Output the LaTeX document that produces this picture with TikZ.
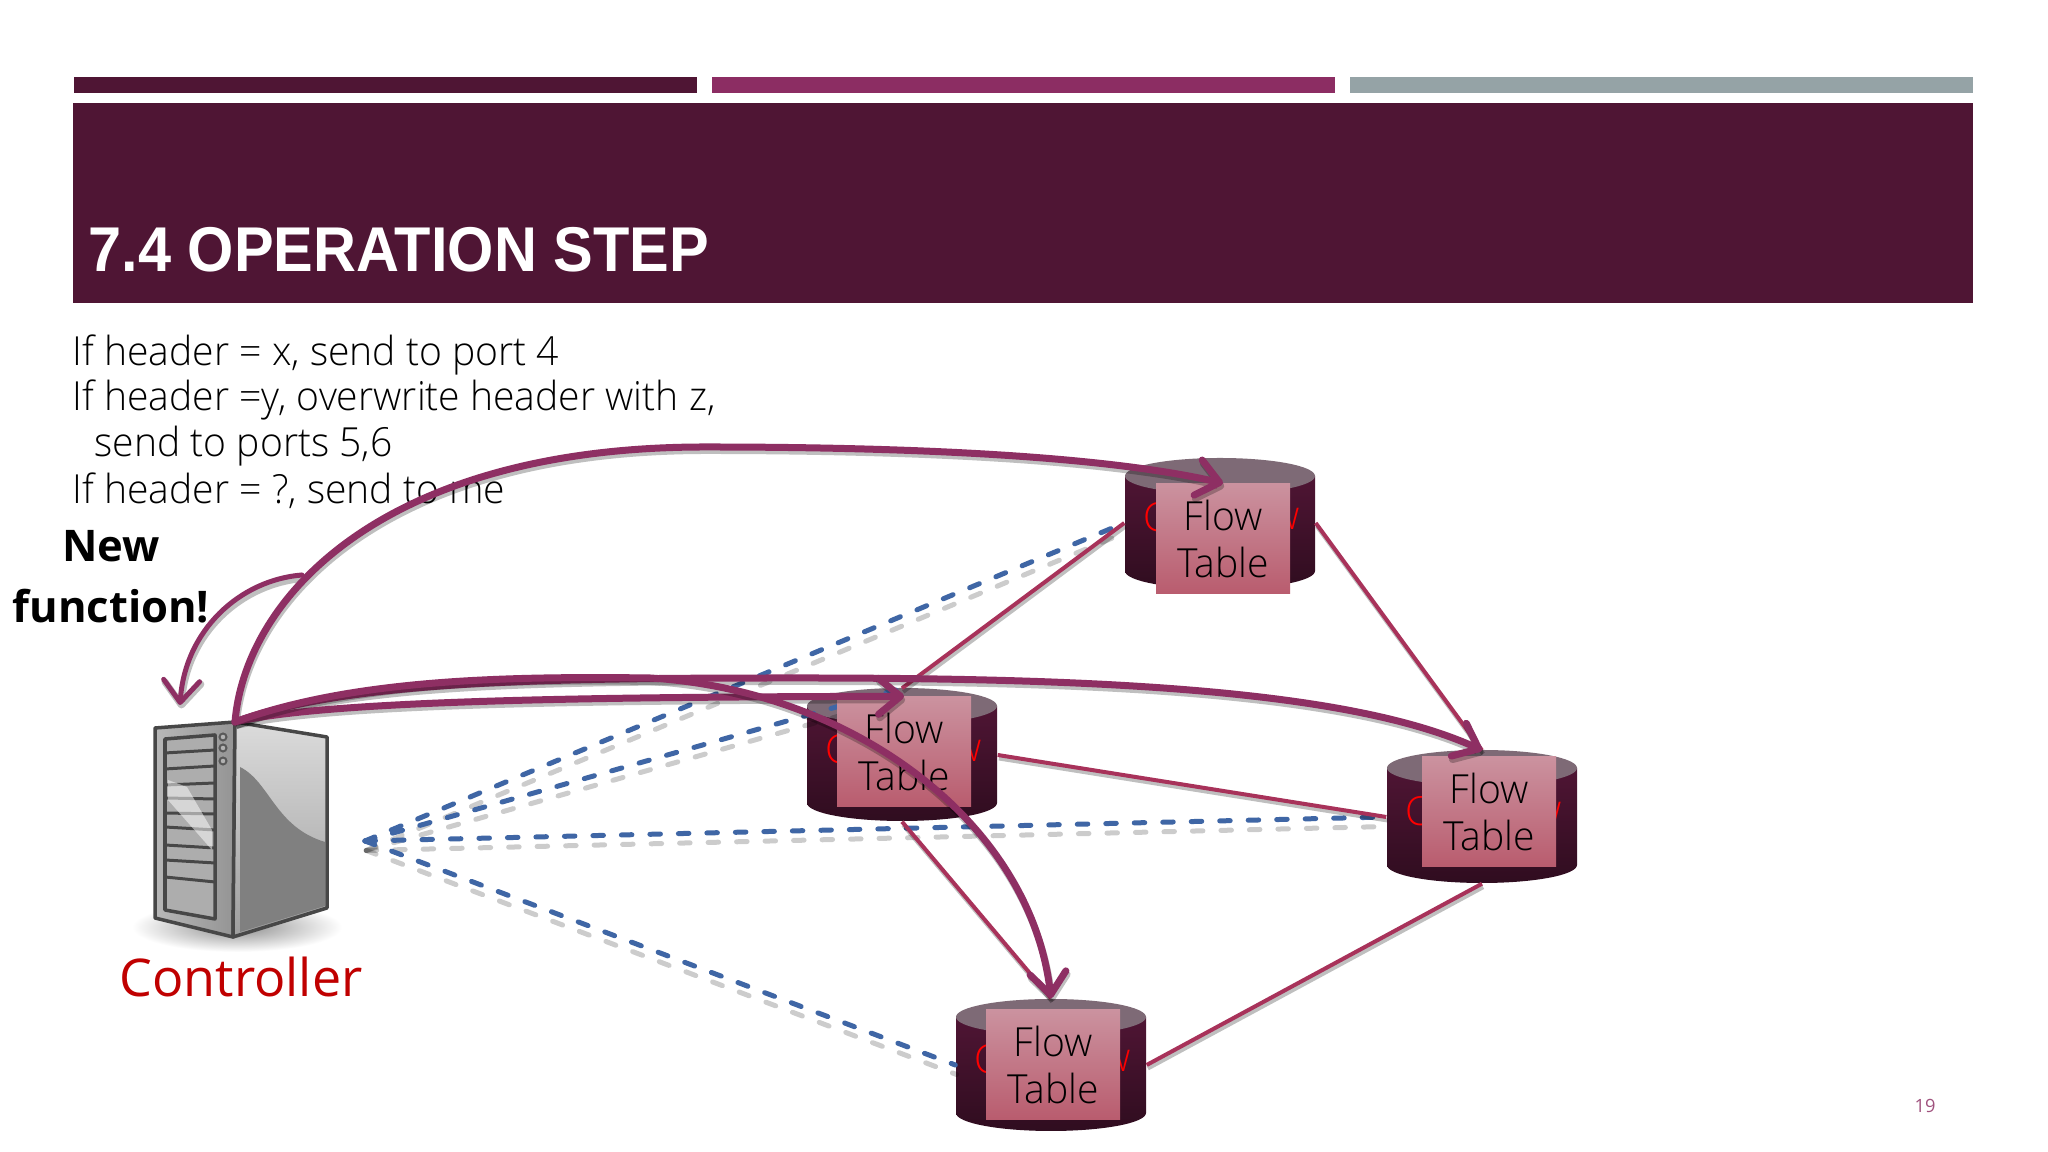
\documentclass[tikz,border=0pt]{standalone}
\usepackage{fontspec}
\setmainfont{Open Sans}
\newfontfamily\lightfont[FakeStretch=0.975]{Open Sans Light}
\newfontfamily\titlefont[FakeStretch=0.94]{Liberation Sans}
\usetikzlibrary{arrows.meta}
\definecolor{slidedark}{HTML}{4F1534}
\definecolor{slidemid}{HTML}{8C2D63}
\definecolor{slidegray}{HTML}{95A3A6}
\definecolor{arrowcol}{HTML}{8E2F63}
\definecolor{linkcol}{HTML}{A8325A}
\definecolor{dashcol}{HTML}{3F66A5}
\definecolor{labelred}{HTML}{C00000}
\definecolor{capcol}{HTML}{7E6A76}
\definecolor{boxtop}{HTML}{CB929F}
\definecolor{boxbottom}{HTML}{B95C6E}
\definecolor{pagecol}{HTML}{A0527E}
\tikzset{
  softshadow/.style={preaction={draw=black, opacity=.25, transform canvas={shift={(0.012,-0.035)}}, #1}},
  switchbody/.style={rectangle, minimum width=1.9cm, minimum height=1.32cm, inner sep=0pt},
  switchshade/.style={top color=slidedark, bottom color=slidedark!60!black},
  switchcap/.style={fill=capcol},
  flowbox/.style={rectangle, minimum width=1.34cm, minimum height=1.1cm, inner sep=0pt, align=center, top color=boxtop, bottom color=boxbottom, font=\lightfont\fontsize{11.4}{13.1}\selectfont},
  hiddenlabel/.style={text=red, inner sep=0pt, font=\lightfont\fontsize{11.4}{13.1}\selectfont},
  rulestext/.style={anchor=base west, inner sep=0pt, font=\lightfont\fontsize{11.4}{13.1}\selectfont},
  ctrlpath/.style={draw=dashcol, line width=.05cm, line cap=round, dash pattern=on .105cm off .18cm, softshadow={line width=.05cm, line cap=round, dash pattern=on .105cm off .18cm, transform canvas={shift={(0,-0.06)}}, opacity=.2}},
  swlink/.style={draw=linkcol, line width=.04cm, softshadow={line width=.04cm}},
  flowarrow/.style={draw=arrowcol, line width=.07cm, line cap=round, -{Straight Barb[length=.22cm,width=.36cm,round]}, softshadow={line width=.07cm}},
  srvface/.style={draw=black!72, line width=.035cm, line join=round}
}
\begin{document}
\begin{tikzpicture}
      \useasboundingbox (0,0) rectangle (20.48,11.52);
      \fill[white] (0,0) rectangle (20.48,11.52);
      % slide header
      \fill[slidedark] (0.74,10.75) rectangle (6.97,10.59);
      \fill[slidemid] (7.12,10.75) rectangle (13.35,10.59);
      \fill[slidegray] (13.50,10.75) rectangle (19.73,10.59);
      \fill[slidedark] (0.73,10.49) rectangle (19.73,8.49);
      \node[anchor=base west, inner sep=0pt, text=white, font=\titlefont\bfseries\fontsize{18}{22}\selectfont] (title) at (0.88,8.80) {7.4 OPERATION STEP};
      %
      \node[rulestext] (rule1) at (0.72,7.86) {If header = x, send to port 4};
      \node[rulestext] (rule2) at (0.72,7.41) {If header =y, overwrite header with z,};
      \node[rulestext] (rule3) at (0.94,6.95) {send to ports 5,6};
      \node[rulestext] (rule4) at (0.72,6.48) {If header = ?, send to me};
      %
      \node[anchor=base, inner sep=0pt, font=\bfseries\fontsize{12.4}{15}\selectfont] (newword) at (1.11,5.90) {New};
      \node[anchor=base, inner sep=0pt, font=\bfseries\fontsize{12.4}{15}\selectfont] (funcword) at (1.11,5.29) {function!};
      \node[anchor=base, inner sep=0pt, text=labelred, font=\fontsize{14.8}{17}\selectfont] (ctrllabel) at (2.41,1.55) {Controller};
      \node[text=pagecol, inner sep=0pt, font=\fontsize{5.2}{6}\selectfont] (pagenum) at (19.25,0.46) {19};
      % server
      \shade[inner color=black!45, outer color=white] (2.37,2.25) ellipse (1.05 and 0.25);
      \path[srvface, left color=black!28, right color=black!42] (1.55,4.24) -- (2.35,4.30) -- (2.33,2.15) -- (1.55,2.34) -- cycle;
      \path[srvface, top color=black!14, bottom color=black!38] (2.35,4.30) -- (3.27,4.15) -- (3.27,2.44) -- (2.33,2.15) -- cycle;
      \fill[black!50] (2.40,3.85) .. controls (2.70,3.70) and (2.75,3.25) .. (3.25,3.10) -- (3.25,2.46) -- (2.40,2.20) -- cycle;
      \path[srvface, fill=black!32] (1.65,4.13) -- (2.15,4.17) -- (2.15,2.33) -- (1.65,2.42) -- cycle;
      \draw[black!72, line width=.03cm] (1.65,3.99) -- (2.15,4.02) (1.65,3.83) -- (2.15,3.86) (1.65,3.67) -- (2.15,3.69) (1.65,3.54) -- (2.15,3.53) (1.65,3.39) -- (2.15,3.38) (1.65,3.25) -- (2.15,3.22) (1.65,3.07) -- (2.15,3.04) (1.65,2.92) -- (2.15,2.89) (1.65,2.75) -- (2.15,2.70);
      \fill[white, opacity=.5] (1.68,3.72) -- (1.87,3.65) -- (2.12,3.22) -- (2.12,3.02) -- (1.68,3.52) -- cycle;
      \draw[black!65, line width=.02cm, fill=black!30] (2.23,4.15) circle (0.035);
      \draw[black!65, line width=.02cm, fill=black!30] (2.23,4.04) circle (0.035);
      \draw[black!65, line width=.02cm, fill=black!30] (2.23,3.91) circle (0.035);
      \coordinate (srvtop) at (2.35,4.30);
      \coordinate (ctrlport) at (3.65,3.11);
      \coordinate (newstart) at (3.02,5.77);
      \coordinate (newend) at (1.80,4.47);
      % switches
      \node[switchbody] (swtop) at (12.20,6.29) {};
      \shade[switchshade] (11.25,6.76) -- (11.25,5.81) arc[start angle=180, end angle=360, x radius=.95, y radius=.18] -- (13.15,6.76) -- cycle;
      \fill[switchcap] (12.20,6.76) ellipse (0.95 and 0.18);
      \node[hiddenlabel] (swtopc) at (11.56,6.35) {C};
      \node[hiddenlabel] (swtopw) at (12.86,6.33) {w};
      %
      \node[switchbody] (swleft) at (9.02,3.97) {};
      \shade[switchshade] (8.07,4.46) -- (8.07,3.49) arc[start angle=180, end angle=360, x radius=.95, y radius=.18] -- (9.97,4.46) -- cycle;
      \fill[switchcap] (9.02,4.46) ellipse (0.95 and 0.18);
      \node[hiddenlabel] (swleftc) at (8.38,4.03) {C};
      \node[hiddenlabel] (swleftw) at (9.68,4.01) {w};
      %
      \node[switchbody] (swright) at (14.82,3.35) {};
      \shade[switchshade] (13.87,3.84) -- (13.87,2.87) arc[start angle=180, end angle=360, x radius=.95, y radius=.18] -- (15.77,3.84) -- cycle;
      \fill[switchcap] (14.82,3.84) ellipse (0.95 and 0.18);
      \node[hiddenlabel] (swrightc) at (14.18,3.41) {C};
      \node[hiddenlabel] (swrightw) at (15.48,3.39) {w};
      %
      \node[switchbody] (swbottom) at (10.51,0.87) {};
      \shade[switchshade] (9.56,1.35) -- (9.56,0.39) arc[start angle=180, end angle=360, x radius=.95, y radius=.18] -- (11.46,1.35) -- cycle;
      \fill[switchcap] (10.51,1.35) ellipse (0.95 and 0.18);
      \node[hiddenlabel] (swbottomc) at (9.87,0.93) {C};
      \node[hiddenlabel] (swbottomw) at (11.17,0.91) {w};
      % control channels
      \draw[ctrlpath] (ctrlport) -- (swtop.west);
      \draw[ctrlpath] (ctrlport) -- (swleft.north);
      \draw[ctrlpath] (ctrlport) -- (swright.west);
      \draw[ctrlpath] (ctrlport) -- (swbottom.west);
      % links
      \draw[swlink] (swtop.west) -- (swleft.north);
      \draw[swlink] (swtop.east) -- (swright.north);
      \draw[swlink] (swleft.east) -- (swright.west);
      \draw[swlink] (swleft.south) -- (swbottom.north);
      \draw[swlink] (swright.south) -- (swbottom.east);
      % flow tables
      \node[flowbox] (swtopbox) at (12.23,6.13) {Flow\\Table};
      \node[flowbox] (swleftbox) at (9.04,4.00) {Flow\\Table};
      \node[flowbox] (swrightbox) at (14.89,3.40) {Flow\\Table};
      \node[flowbox] (swbottombox) at (10.53,0.87) {Flow\\Table};
      % arrows
      \draw[flowarrow, line width=.05cm] (newstart) .. controls (2.40,5.72) and (1.85,5.22) .. (newend);
      \draw[flowarrow] (srvtop) .. controls (2.45,5.52) and (3.80,7.05) .. (7.05,7.05) .. controls (9.00,7.05) and (11.00,6.97) .. (swtopbox.north);
      \draw[flowarrow] (srvtop) .. controls (3.50,4.72) and (5.50,4.74) .. (8.00,4.74) .. controls (11.00,4.74) and (13.50,4.62) .. (swright.north);
      \draw[flowarrow] (srvtop) .. controls (3.30,4.52) and (6.00,4.55) .. (swleftbox.north);
      \draw[flowarrow] (srvtop) .. controls (3.50,4.72) and (5.00,4.76) .. (6.50,4.74) .. controls (8.50,4.62) and (10.30,3.32) .. (swbottom.north);
\end{tikzpicture}
\end{document}
